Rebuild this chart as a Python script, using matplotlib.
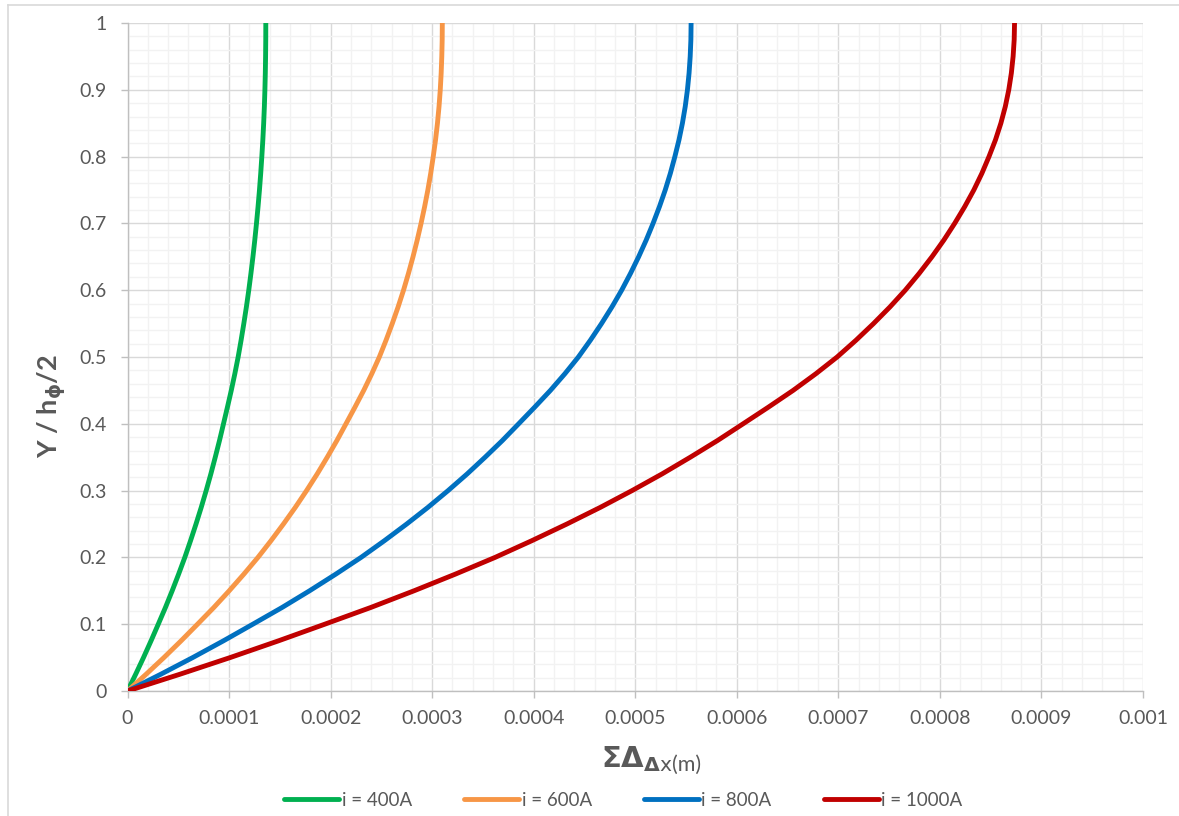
import matplotlib
matplotlib.use('Agg')
import matplotlib.pyplot as plt
from matplotlib.ticker import MultipleLocator, FixedLocator, FixedFormatter
from matplotlib.lines import Line2D

plt.rcParams['font.family'] = ['Lato', 'DejaVu Sans']
plt.rcParams['mathtext.fontset'] = 'dejavusans'

# ---- data ----
y_frac = [0.000, 0.025, 0.050, 0.075, 0.100, 0.125, 0.150, 0.175, 0.200, 0.225,
          0.250, 0.275, 0.300, 0.325, 0.350, 0.375, 0.400, 0.425, 0.450, 0.475,
          0.500, 0.525, 0.550, 0.575, 0.600, 0.625, 0.650, 0.675, 0.700, 0.725,
          0.750, 0.775, 0.800, 0.825, 0.850, 0.875, 0.900, 0.925, 0.950, 0.975,
          1.000]

x_400 = [0.0, 0.0802e-4, 0.1574e-4, 0.2315e-4, 0.3029e-4, 0.3735e-4, 0.4399e-4,
         0.5035e-4, 0.5644e-4, 0.6208e-4, 0.6747e-4, 0.7262e-4, 0.7747e-4,
         0.8209e-4, 0.8642e-4, 0.9060e-4, 0.9452e-4, 0.9842e-4, 1.0220e-4,
         1.0571e-4, 1.0896e-4, 1.1185e-4, 1.1454e-4, 1.1708e-4, 1.1942e-4,
         1.2154e-4, 1.2352e-4, 1.2534e-4, 1.2701e-4, 1.2855e-4, 1.2995e-4,
         1.3119e-4, 1.3228e-4, 1.3327e-4, 1.3410e-4, 1.3478e-4, 1.3531e-4,
         1.3571e-4, 1.3598e-4, 1.3615e-4, 1.3620e-4]

x_600 = [0.0, 0.1826e-4, 0.3584e-4, 0.5270e-4, 0.6894e-4, 0.8500e-4, 1.0013e-4,
         1.1461e-4, 1.2846e-4, 1.4130e-4, 1.5357e-4, 1.6529e-4, 1.7633e-4,
         1.8684e-4, 1.9670e-4, 2.0621e-4, 2.1514e-4, 2.2401e-4, 2.3262e-4,
         2.4059e-4, 2.4800e-4, 2.5457e-4, 2.6071e-4, 2.6648e-4, 2.7181e-4,
         2.7664e-4, 2.8114e-4, 2.8529e-4, 2.8908e-4, 2.9258e-4, 2.9577e-4,
         2.9859e-4, 3.0107e-4, 3.0334e-4, 3.0523e-4, 3.0678e-4, 3.0799e-4,
         3.0888e-4, 3.0950e-4, 3.0988e-4, 3.1000e-4]

x_800 = [0.0, 0.3269e-4, 0.6416e-4, 0.9435e-4, 1.2343e-4, 1.5218e-4, 1.7927e-4,
         2.0518e-4, 2.2999e-4, 2.5297e-4, 2.7495e-4, 2.9593e-4, 3.1568e-4,
         3.3450e-4, 3.5215e-4, 3.6919e-4, 3.8517e-4, 4.0104e-4, 4.1647e-4,
         4.3074e-4, 4.4400e-4, 4.5577e-4, 4.6676e-4, 4.7708e-4, 4.8662e-4,
         4.9528e-4, 5.0333e-4, 5.1077e-4, 5.1754e-4, 5.2381e-4, 5.2953e-4,
         5.3458e-4, 5.3902e-4, 5.4307e-4, 5.4645e-4, 5.4923e-4, 5.5139e-4,
         5.5300e-4, 5.5411e-4, 5.5478e-4, 5.5500e-4]

x_1000 = [0.0, 0.5145e-4, 1.0098e-4, 1.4850e-4, 1.9427e-4, 2.3951e-4, 2.8214e-4,
          3.2293e-4, 3.6198e-4, 3.9814e-4, 4.3273e-4, 4.6575e-4, 4.9685e-4,
          5.2646e-4, 5.5424e-4, 5.8105e-4, 6.0621e-4, 6.3119e-4, 6.5547e-4,
          6.7792e-4, 6.9880e-4, 7.1732e-4, 7.3461e-4, 7.5086e-4, 7.6589e-4,
          7.7951e-4, 7.9218e-4, 8.0388e-4, 8.1454e-4, 8.2441e-4, 8.3341e-4,
          8.4136e-4, 8.4834e-4, 8.5472e-4, 8.6005e-4, 8.6442e-4, 8.6783e-4,
          8.7036e-4, 8.7210e-4, 8.7315e-4, 8.7350e-4]

series_labels = ['i = 400A', 'i = 600A', 'i = 800A', 'i = 1000A']
series_colors = ['#00B050', '#F79646', '#0070C0', '#C00000']

x_ticks = [0, 0.0001, 0.0002, 0.0003, 0.0004, 0.0005, 0.0006, 0.0007, 0.0008, 0.0009, 0.001]
x_tick_labels = ['0', '0.0001', '0.0002', '0.0003', '0.0004', '0.0005', '0.0006',
                 '0.0007', '0.0008', '0.0009', '0.001']
y_ticks = [0, 0.1, 0.2, 0.3, 0.4, 0.5, 0.6, 0.7, 0.8, 0.9, 1.0]
y_tick_labels = ['0', '0.1', '0.2', '0.3', '0.4', '0.5', '0.6', '0.7', '0.8', '0.9', '1']

# ---- figure ----
W, H = 1179, 816
fig = plt.figure(figsize=(W / 100, H / 100), dpi=100)
ax = fig.add_axes([127.5 / W, 1 - 691 / H, (1143 - 127.5) / W, (691 - 23) / H])

# outer chart border (left & top visible)
fig.add_artist(Line2D([8 / W, 8 / W], [0, 1 - 5 / H], transform=fig.transFigure,
                      color='#D9D9D9', lw=1.2))
fig.add_artist(Line2D([8 / W, 1], [1 - 5 / H, 1 - 5 / H], transform=fig.transFigure,
                      color='#D9D9D9', lw=1.2))

for xs, lab, col in zip([x_400, x_600, x_800, x_1000], series_labels, series_colors):
    ax.plot(xs, y_frac, color=col, lw=3.5, label=lab, solid_capstyle='round',
            solid_joinstyle='round', zorder=3)

ax.set_xlim(0, 0.001)
ax.set_ylim(0, 1)
ax.xaxis.set_major_locator(FixedLocator(x_ticks))
ax.xaxis.set_major_formatter(FixedFormatter(x_tick_labels))
ax.yaxis.set_major_locator(FixedLocator(y_ticks))
ax.yaxis.set_major_formatter(FixedFormatter(y_tick_labels))
ax.xaxis.set_minor_locator(MultipleLocator(0.00002))
ax.yaxis.set_minor_locator(MultipleLocator(0.02))

ax.grid(which='minor', color='#F2F2F2', lw=1.0, zorder=0)
ax.grid(which='major', color='#D9D9D9', lw=1.0, zorder=1)
ax.set_axisbelow(True)

for s in ['top', 'right']:
    ax.spines[s].set_visible(False)
for s in ['left', 'bottom']:
    ax.spines[s].set_color('#BFBFBF')
    ax.spines[s].set_linewidth(1.0)

ax.tick_params(which='major', direction='out', length=5, width=1.0, color='#BFBFBF',
               labelsize=14, labelcolor='#595959')
ax.tick_params(axis='x', which='major', pad=9)
ax.tick_params(axis='y', which='major', pad=10)
ax.tick_params(which='minor', length=0)

# y label (rotated, baseline at x~56 px, centred at y~406 px)
fig.text(57 / W, 1 - 406 / H, 'Y / h$_{\\mathbf{\u03d5}}$/2', rotation=90,
         rotation_mode='anchor', ha='center', va='baseline', fontsize=19.5,
         fontweight='bold', color='#595959')

# x label
t1 = fig.text(601 / W, 1 - 767 / H, r'$\mathbf{\Sigma\Delta}_{\mathbf{\Delta}\mathrm{x}}$',
              ha='left', va='baseline', fontsize=21, color='#595959')
fig.canvas.draw()
bb = t1.get_window_extent()
fig.text((bb.x1 - 1) / W, 1 - 771 / H, '(m)', ha='left', va='baseline',
         fontsize=15.5, color='#595959')

# legend
leg = fig.legend(loc='center', bbox_to_anchor=(623.5 / W, 1 - 800 / H), ncol=4,
                 frameon=False, fontsize=13.5, handlelength=2.9, handletextpad=0.15,
                 columnspacing=2.8, labelcolor='#595959')

fig.savefig('out.png', dpi=100)
